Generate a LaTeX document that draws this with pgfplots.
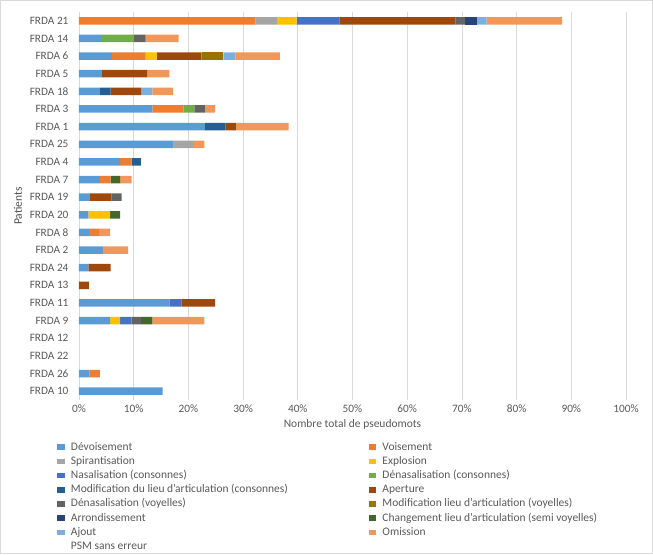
\documentclass[border=0pt]{standalone}
\usepackage{fontspec}
\setmainfont{Carlito}
\usepackage{pgfplots}
\pgfplotsset{compat=1.18}
\usepackage{pgfplotstable}
\definecolor{cDev}{HTML}{5B9BD5}
\definecolor{cV}{HTML}{ED7D31}
\definecolor{cSpi}{HTML}{A5A5A5}
\definecolor{cExp}{HTML}{FFC000}
\definecolor{cNas}{HTML}{4472C4}
\definecolor{cDnC}{HTML}{70AD47}
\definecolor{cMoC}{HTML}{255E91}
\definecolor{cApe}{HTML}{9E480E}
\definecolor{cDnV}{HTML}{636363}
\definecolor{cMoV}{HTML}{997300}
\definecolor{cArr}{HTML}{264478}
\definecolor{cChg}{HTML}{43682B}
\definecolor{cAj}{HTML}{7CAFDD}
\definecolor{cOm}{HTML}{F1975A}
\definecolor{txt}{HTML}{595959}
\definecolor{gridc}{HTML}{D9D9D9}

\pgfplotsset{
  lg/.style={fill=#1, draw=none,
    legend image code/.code={\fill[##1] (0pt,-2.8pt) rectangle (7.5pt,2.8pt); \path (11.5pt,0pt);}},
}

\pgfplotstableread{
y  Dev  V    Spi  Exp  Nas  DnC  MoC  Ape  DnV  MoV  Arr  Chg  Aj   Om
21 0    32.3 3.9  3.6  7.8  0    0    21.2 1.8  0    2.1  0    1.8  13.8
20 4.0  0    0    0    0    6.1  0    0    2.1  0    0    0    0    6.0
19 6.0  6.2  0    2.0  0    0    0    8.2  0    4.0  0    0    2.2  8.1
18 4.1  0    0    0    0    0    0    8.4  0    0    0    0    0    4.0
17 3.8  0    0    0    0    0    2.0  5.6  0    0    0    0    2.0  3.8
16 13.4 5.7  0    0    0    2.0  0    0    1.9  0    0    0    0    1.9
15 23.0 0    0    0    0    0    3.8  1.9  0    0    0    0    0    9.6
14 17.3 0    3.7  0    0    0    0    0    0    0    0    0    0    1.9
13 7.5  2.1  0    0    0    0    1.7  0    0    0    0    0    0    0
12 3.8  2.0  0    0    0    0    0    0    0    0    0    1.7  0    2.1
11 1.9  0    0    0    0    0    0    4.0  1.9  0    0    0    0    0
10 1.7  0    0    4.0  0    0    0    0    0    0    0    1.8  0    0
9  1.8  1.9  0    0    0    0    0    0    0    0    0    0    0    2.0
8  4.5  0    0    0    0    0    0    0    0    0    0    0    0    4.5
7  1.7  0    0    0    0    0    0    4.1  0    0    0    0    0    0
6  0    0    0    0    0    0    0    1.8  0    0    0    0    0    0
5  16.5 0    0    0    2.2  0    0    6.2  0    0    0    0    0    0
4  5.7  0    0    1.8  2.1  0    0    0    1.7  0    0    2.1  0    9.5
3  0    0    0    0    0    0    0    0    0    0    0    0    0    0
2  0    0    0    0    0    0    0    0    0    0    0    0    0    0
1  1.9  1.9  0    0    0    0    0    0    0    0    0    0    0    0
0  15.3 0    0    0    0    0    0    0    0    0    0    0    0    0
}\data

\begin{document}
\begin{tikzpicture}
\path[use as bounding box] (0pt,0pt) rectangle (653pt,554pt);
\draw[gridc, line width=0.8pt] (0.5pt,0.5pt) rectangle (652.5pt,553.5pt);
\begin{axis}[
  at={(79pt,154pt)}, anchor=south west,
  scale only axis, width=547pt, height=388pt,
  xbar stacked, bar width=7.5pt,
  xmin=0, xmax=100, ymin=-0.5, ymax=21.5,
  xtick={0,10,...,100},
  xticklabel={\pgfmathprintnumber{\tick}\%},
  ytick={0,...,21},
  yticklabels={FRDA 10,FRDA 26,FRDA 22,FRDA 12,FRDA 9,FRDA 11,FRDA 13,FRDA 24,FRDA 2,FRDA 8,FRDA 20,FRDA 19,FRDA 7,FRDA 4,FRDA 25,FRDA 1,FRDA 3,FRDA 18,FRDA 5,FRDA 6,FRDA 14,FRDA 21},
  /pgf/number format/assume math mode=true,
  xmajorgrids, grid style={gridc, line width=0.8pt},
  axis line style={draw=none}, tick style={draw=none},
  major tick length=0pt,
  ticklabel style={font=\fontsize{11.3}{13}\selectfont, text=txt},
  yticklabel style={xshift=-7pt},
  xticklabel style={yshift=-1pt},
  xlabel={Nombre total de pseudomots},
  ylabel={Patients},
  every axis x label/.style={at={(axis description cs:0.5,-0.0619)}, anchor=center,
    font=\fontsize{11.5}{13}\selectfont, text=txt},
  every axis y label/.style={at={(axis description cs:-0.1115,0.5)}, rotate=90, anchor=center,
    font=\fontsize{11.5}{13}\selectfont, text=txt!85!black},
  legend columns=2,
  legend cell align=left,
  legend style={draw=none, fill=none, inner sep=0pt,
    at={(axis description cs:-0.0398,-0.1026)}, anchor=north west,
    font=\fontsize{11.5}{13}\selectfont, text=txt,
    nodes={inner sep=2pt, text height=8pt, text depth=2.2pt},
    row sep=0pt,
    /tikz/every even column/.append style={column sep=79pt}},
]
\addplot[lg=cDev] table[x=Dev, y=y] {\data};
\addlegendentry{Dévoisement}
\addplot[lg=cV] table[x=V, y=y] {\data};
\addlegendentry{Voisement}
\addplot[lg=cSpi] table[x=Spi, y=y] {\data};
\addlegendentry{Spirantisation}
\addplot[lg=cExp] table[x=Exp, y=y] {\data};
\addlegendentry{Explosion}
\addplot[lg=cNas] table[x=Nas, y=y] {\data};
\addlegendentry{Nasalisation (consonnes)}
\addplot[lg=cDnC] table[x=DnC, y=y] {\data};
\addlegendentry{Dénasalisation (consonnes)}
\addplot[lg=cMoC] table[x=MoC, y=y] {\data};
\addlegendentry{Modification du lieu d'articulation (consonnes)}
\addplot[lg=cApe] table[x=Ape, y=y] {\data};
\addlegendentry{Aperture}
\addplot[lg=cDnV] table[x=DnV, y=y] {\data};
\addlegendentry{Dénasalisation (voyelles)}
\addplot[lg=cMoV] table[x=MoV, y=y] {\data};
\addlegendentry{Modification lieu d'articulation (voyelles)}
\addplot[lg=cArr] table[x=Arr, y=y] {\data};
\addlegendentry{Arrondissement}
\addplot[lg=cChg] table[x=Chg, y=y] {\data};
\addlegendentry{Changement lieu d'articulation (semi voyelles)}
\addplot[lg=cAj] table[x=Aj, y=y] {\data};
\addlegendentry{Ajout}
\addplot[lg=cOm] table[x=Om, y=y] {\data};
\addlegendentry{Omission}
\addlegendimage{lg=white}
\addlegendentry{PSM sans erreur}
\end{axis}
\end{tikzpicture}
\end{document}
